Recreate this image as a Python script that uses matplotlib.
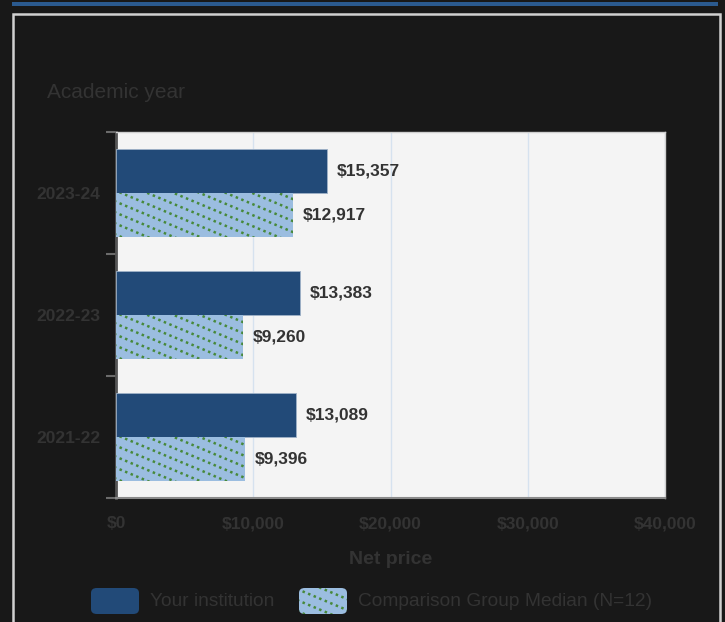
import matplotlib
matplotlib.use("Agg")
import matplotlib.pyplot as plt
from matplotlib.patches import Rectangle, FancyBboxPatch
from matplotlib.collections import LineCollection
from matplotlib.transforms import IdentityTransform
import numpy as np

plt.rcParams['font.family'] = ['Liberation Sans', 'DejaVu Sans']

# data
years = ['2021-22', '2022-23', '2023-24']
your_institution = [13089, 13383, 15357]
comparison_median = [9396, 9260, 12917]
x_ticks = [0, 10000, 20000, 30000, 40000]
series_names = ['Your institution', 'Comparison Group Median (N=12)']

bg = '#181818'
dark_text = '#333333'
dark_blue = '#224a78'
light_blue = '#9bbde0'
dot_green = '#47893a'

W, H = 725, 622
fig = plt.figure(figsize=(W / 100, H / 100), dpi=100, facecolor=bg)


def dotted_stripes(patch, owner):
    # shallow dotted diagonals (pixel space), clipped to the patch
    bb = patch.get_window_extent()
    slope, step = 0.42, 11.0
    segs = []
    c = bb.y0 + 3
    while c < bb.y1 + slope * bb.width + step:
        segs.append([(bb.x0 - 2, c), (bb.x1 + 2, c - slope * (bb.width + 4))])
        c += step
    lc = LineCollection(segs, colors=dot_green, linewidths=1.8, linestyles=[(0, (1.0, 1.4))],
                        transform=IdentityTransform(), zorder=patch.get_zorder() + 0.1)
    if owner is fig:
        fig.add_artist(lc)
    else:
        owner.add_collection(lc, autolim=False)
    lc.set_clip_path(patch.get_path(), patch.get_transform())


# top accent strip and outer frame
fig.patches.append(Rectangle((12 / W, 1 - 6 / H), 706 / W, 4 / H, transform=fig.transFigure,
                             facecolor='#2b5a8f', edgecolor='none'))
fig.patches.append(Rectangle((13 / W, -0.05), 707 / W, 1 - 14 / H + 0.05, transform=fig.transFigure,
                             facecolor='none', edgecolor='#d0d0d0', linewidth=1.8))

ax = fig.add_axes([116 / W, 1 - 498 / H, 549 / W, 366 / H])
ax.set_facecolor('#f4f4f4')
ax.set_xlim(0, 40000)
ax.set_ylim(-0.5, len(years) - 0.5)

y = np.arange(len(years))
h = 0.36
ax.barh(y + 0.18, your_institution, height=h, color=dark_blue, edgecolor='#9fb2c8', linewidth=0.6, zorder=3)
comp_bars = ax.barh(y - 0.18, comparison_median, height=h, facecolor=light_blue, edgecolor='none', zorder=3)
for p in comp_bars:
    dotted_stripes(p, ax)

for yi, v in zip(y + 0.18, your_institution):
    ax.annotate('${:,}'.format(v), (v, yi), xytext=(7, 0), textcoords='offset points',
                va='center', ha='left', fontsize=12.5, fontweight='bold', color=dark_text, zorder=4)
for yi, v in zip(y - 0.18, comparison_median):
    ax.annotate('${:,}'.format(v), (v, yi), xytext=(7, 0), textcoords='offset points',
                va='center', ha='left', fontsize=12.5, fontweight='bold', color=dark_text, zorder=4)

ax.set_xticks(x_ticks)
ax.set_xticklabels(['${:,}'.format(t) for t in x_ticks])
ax.xaxis.grid(True, color='#d6e2ef', linewidth=1, zorder=0)
ax.tick_params(axis='x', length=0, pad=13, labelsize=12.5, labelcolor=dark_text)
for lab in ax.get_xticklabels():
    lab.set_fontweight('bold')

ax.set_yticks(y)
ax.set_yticklabels(years)
ax.set_yticks(np.arange(-0.5, len(years), 1.0), minor=True)
ax.tick_params(axis='y', which='major', length=0, pad=11, labelsize=12.5, labelcolor=dark_text)
ax.tick_params(axis='y', which='minor', length=7, width=1.5, color='#6b6b6b')
for lab in ax.get_yticklabels():
    lab.set_fontweight('bold')

for s in ['top', 'right']:
    ax.spines[s].set_color('#cfcfcf')
    ax.spines[s].set_linewidth(1)
ax.spines['left'].set_color('#555555')
ax.spines['left'].set_linewidth(2)
ax.spines['bottom'].set_color('#8a8a8a')
ax.spines['bottom'].set_linewidth(1.5)

ax.set_xlabel('Net price', fontsize=14, fontweight='bold', color=dark_text, labelpad=14)
fig.text(47 / W, 1 - 92 / H, 'Academic year', fontsize=15, color=dark_text, va='center', ha='left')


# legend
def legend_item(x0, label, color, hatched):
    box = FancyBboxPatch((x0 / W, 1 - 614 / H), 48 / W, 26 / H,
                         boxstyle='round,pad=0,rounding_size=0.008', transform=fig.transFigure,
                         facecolor=color, edgecolor='none')
    fig.patches.append(box)
    if hatched:
        dotted_stripes(box, fig)
    fig.text((x0 + 59) / W, 1 - 601 / H, label, fontsize=13.8, color=dark_text, va='center', ha='left')


legend_item(91, series_names[0], dark_blue, False)
legend_item(299, series_names[1], light_blue, True)

fig.savefig('out.png', dpi=100, facecolor=bg)
